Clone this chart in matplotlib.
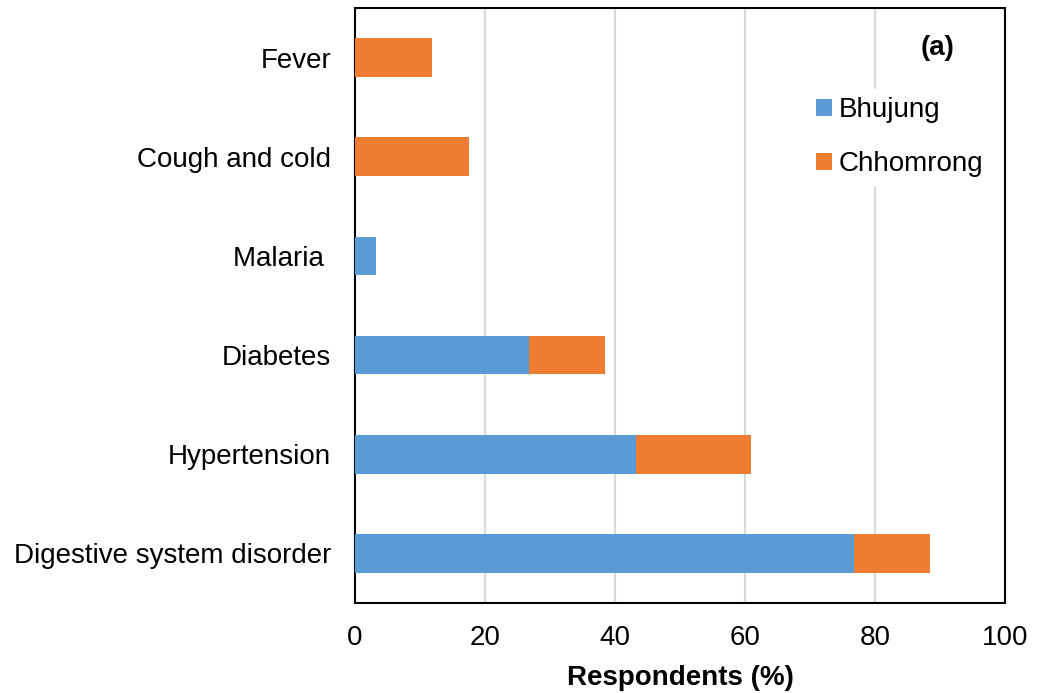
import numpy as np
import matplotlib
matplotlib.use("Agg")
from matplotlib import pyplot as plt

plt.rcParams['font.family'] = ['Liberation Sans', 'DejaVu Sans']

# ailments, bottom to top
ailments = ["Digestive system disorder", "Hypertension", "Diabetes", "Malaria ", "Cough and cold", "Fever"]
bhujung = [76.7, 43.3, 26.7, 3.3, 0, 0]
chhomrong = [11.8, 17.6, 11.8, 0, 17.6, 11.8]

blue = '#5b9bd5'
orange = '#ed7d31'

fig = plt.figure(figsize=(10.37, 6.93), dpi=100)
ax = fig.add_axes([0.3423, 0.1299, 0.6268, 0.8586])

y = np.arange(len(ailments))
ax.barh(y, bhujung, height=0.39, color=blue, label="Bhujung", zorder=3)
ax.barh(y, chhomrong, height=0.39, left=bhujung, color=orange, label="Chhomrong", zorder=3)

ax.set_xlim(0, 100)
ax.set_ylim(-0.5, len(ailments) - 0.5)
ax.set_xticks(np.arange(0, 101, 20))
ax.set_yticks(y)
ax.set_yticklabels(ailments)
ax.tick_params(axis='both', length=0, labelsize=20)
ax.tick_params(axis='y', pad=17)
ax.tick_params(axis='x', pad=16)
ax.xaxis.grid(True, color='#d9d9d9', lw=1.5, zorder=0)
ax.set_axisbelow(True)
for s in ax.spines.values():
    s.set_color('black')
    s.set_linewidth(1.5)

ax.set_xlabel("Respondents (%)", fontsize=20, fontweight='bold', labelpad=10)
ax.text(0.897, 0.933, "(a)", transform=ax.transAxes, fontsize=20, fontweight='bold',
        ha='center', va='center')

leg = ax.legend(loc='upper left', bbox_to_anchor=(0.697, 0.864), frameon=True, fontsize=20,
                handlelength=0.55, handleheight=0.55, handletextpad=0.25, labelspacing=1.0,
                borderaxespad=0, borderpad=0.3, fancybox=False)
leg.get_frame().set_edgecolor('white')
leg.get_frame().set_facecolor('white')
leg.get_frame().set_alpha(1)

plt.savefig("out.png", dpi=100)
